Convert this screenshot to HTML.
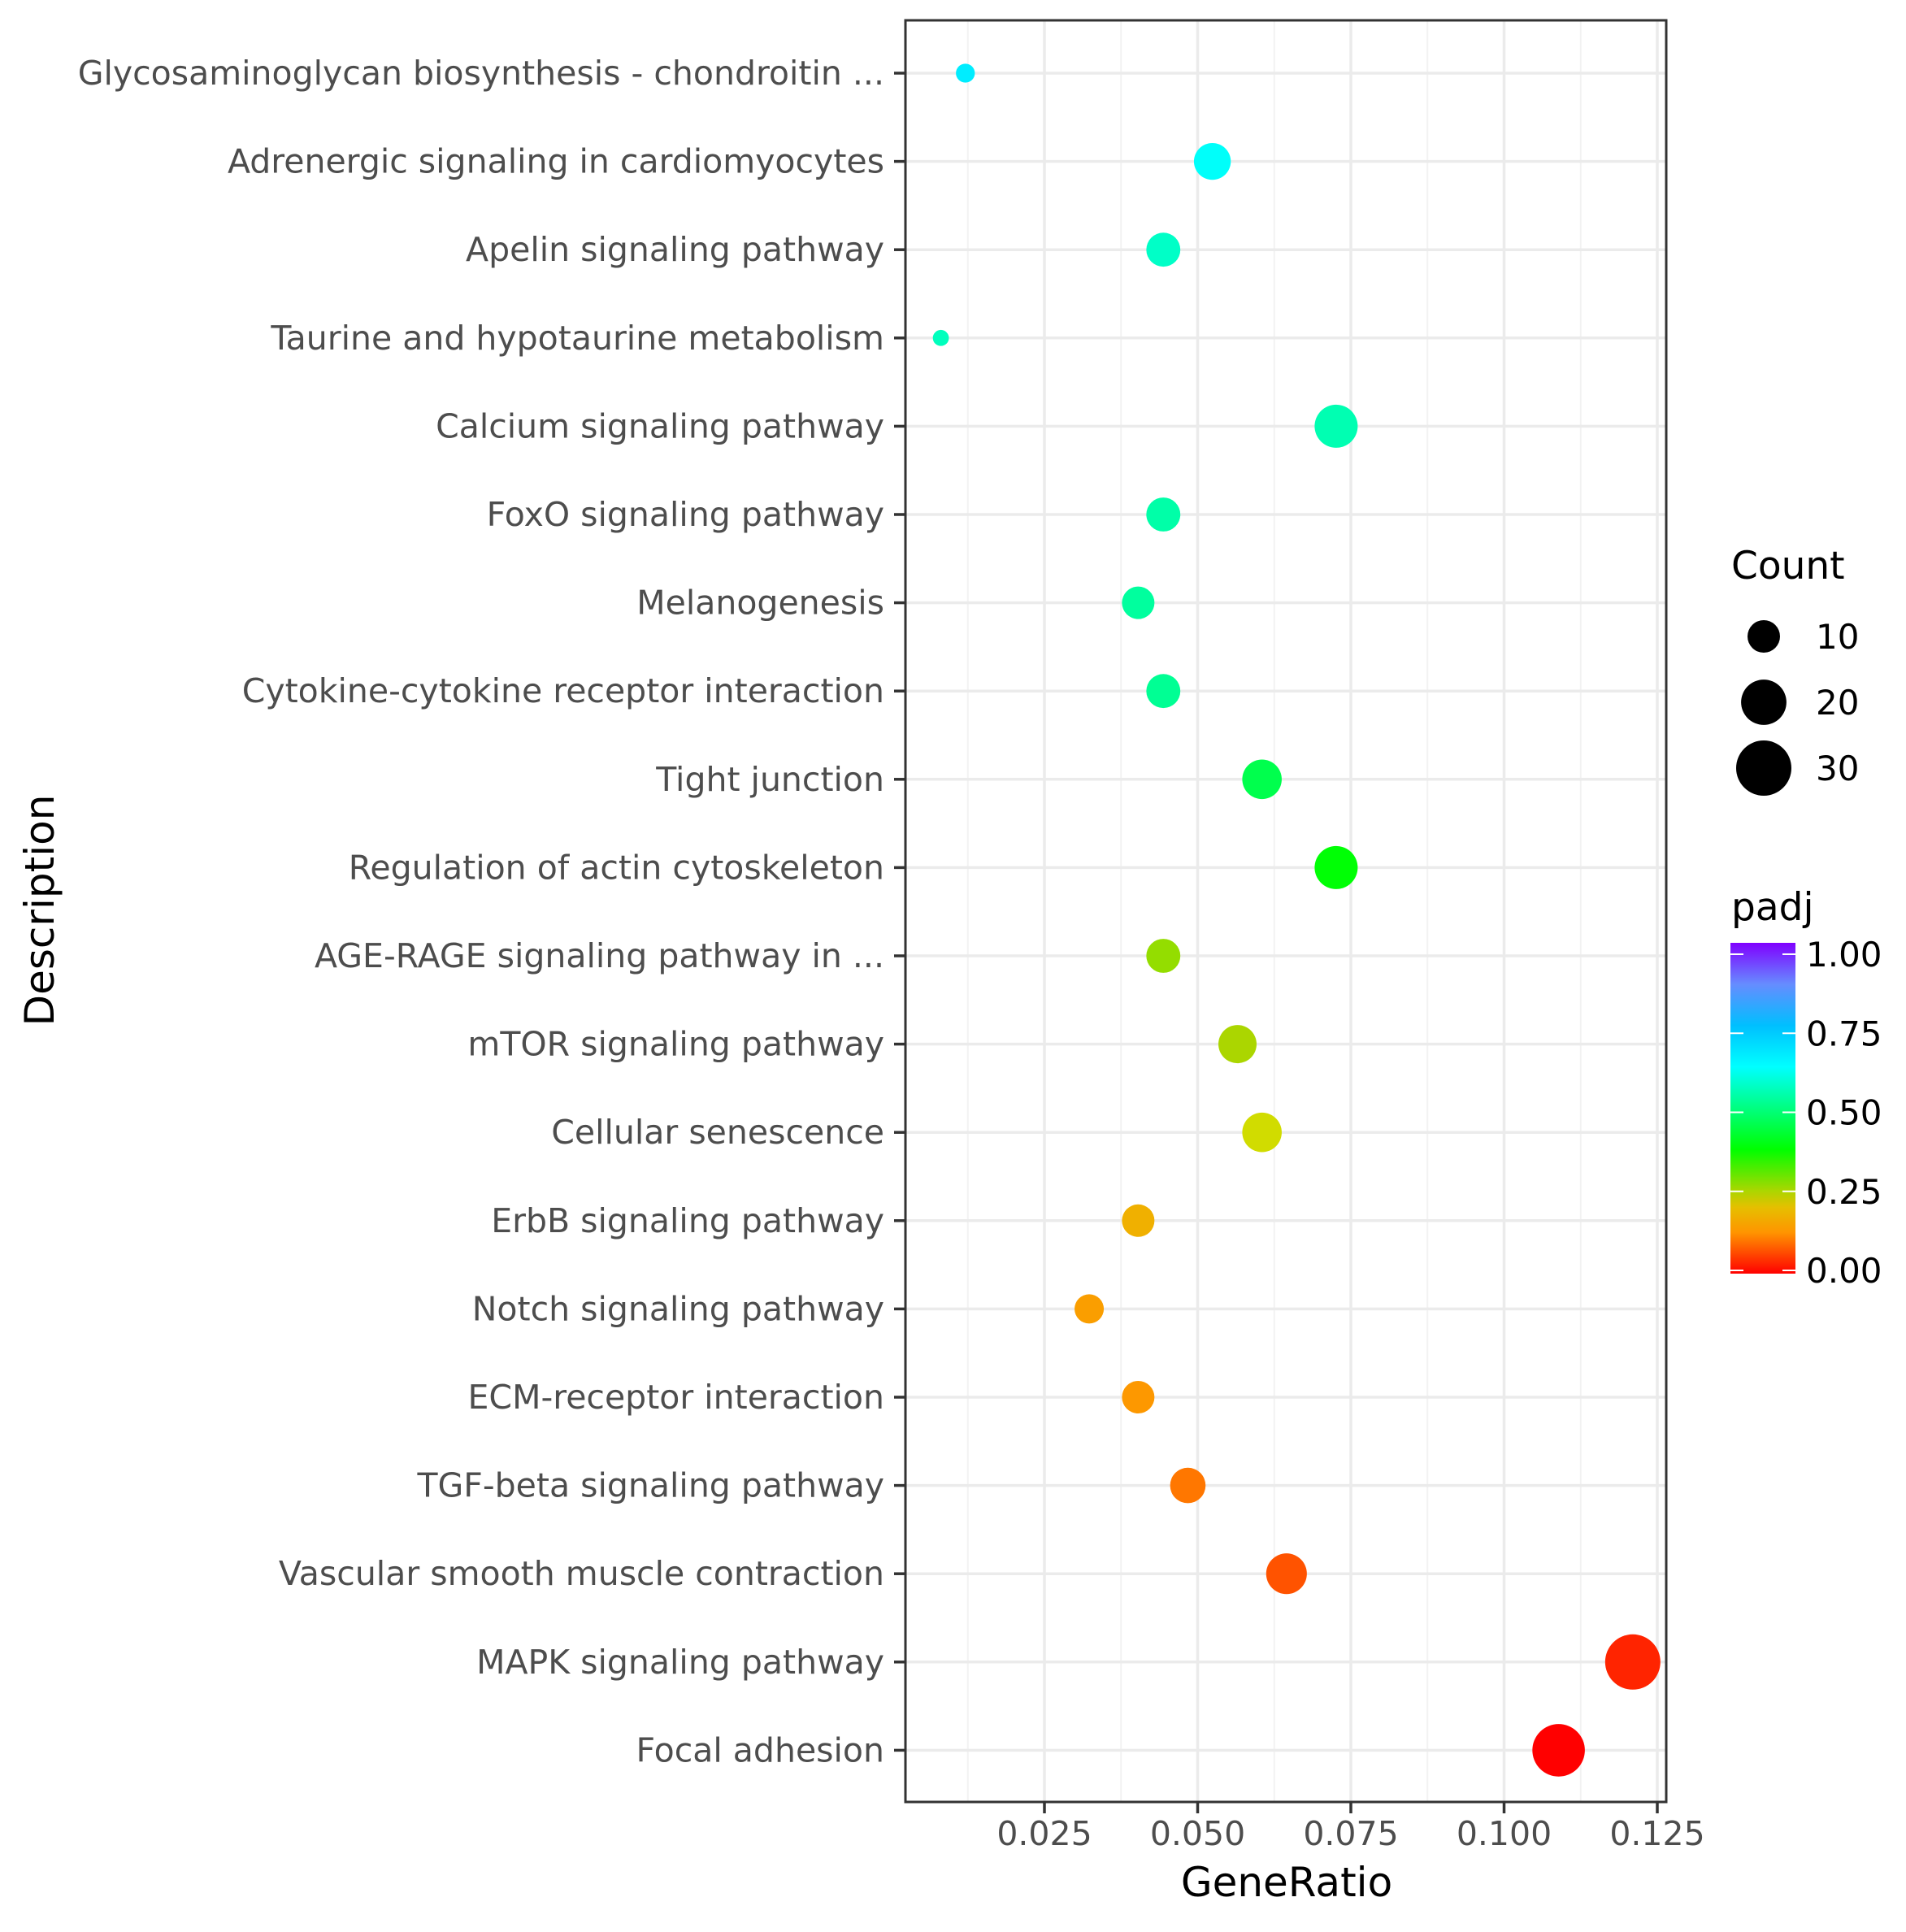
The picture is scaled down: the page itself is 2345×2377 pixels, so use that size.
<!DOCTYPE html>
<html><head><meta charset="utf-8"><style>
html,body{margin:0;padding:0;background:#fff;}
svg{display:block;}
text{font-family:"DejaVu Sans","Liberation Sans",sans-serif;}
</style></head><body>
<svg id="chart" width="2345" height="2377" viewBox="0 0 2345 2377" xmlns="http://www.w3.org/2000/svg">
<defs>
<linearGradient id="padjGrad" x1="0" y1="1" x2="0" y2="0">
<stop offset="0" stop-color="hsl(0,100%,50%)"/>
<stop offset="0.125" stop-color="hsl(35,100%,50%)"/>
<stop offset="0.2" stop-color="hsl(50,100%,45%)"/>
<stop offset="0.25" stop-color="hsl(72,100%,42%)"/>
<stop offset="0.375" stop-color="hsl(120,100%,50%)"/>
<stop offset="0.5" stop-color="hsl(150,100%,50%)"/>
<stop offset="0.625" stop-color="hsl(180,100%,50%)"/>
<stop offset="0.75" stop-color="hsl(195,100%,50%)"/>
<stop offset="0.875" stop-color="hsl(225,100%,70%)"/>
<stop offset="1" stop-color="hsl(270,100%,50%)"/>
</linearGradient>
</defs>
<g id="grid"></g>
<g id="marks"></g>
<rect x="1114" y="25" width="936" height="2192" fill="none" stroke="#333" stroke-width="3"/>
<g id="axes"></g>
<text x="1583" y="2333" font-size="50" text-anchor="middle" fill="#000">GeneRatio</text>
<text transform="translate(66,1120) rotate(-90)" font-size="50" text-anchor="middle" fill="#000">Description</text>
<g>
<text x="2130" y="712" font-size="47" fill="#000">Count</text>
<g id="sizeLegend"></g>
</g>
<g>
<text x="2130" y="1132" font-size="47" fill="#000">padj</text>
<rect x="2129" y="1160" width="80" height="407" fill="url(#padjGrad)"/>
<g id="colorLegend"></g>
</g>
</svg>
<script>
const categories = ["Glycosaminoglycan biosynthesis - chondroitin ...","Adrenergic signaling in cardiomyocytes","Apelin signaling pathway","Taurine and hypotaurine metabolism","Calcium signaling pathway","FoxO signaling pathway","Melanogenesis","Cytokine-cytokine receptor interaction","Tight junction","Regulation of actin cytoskeleton","AGE-RAGE signaling pathway in ...","mTOR signaling pathway","Cellular senescence","ErbB signaling pathway","Notch signaling pathway","ECM-receptor interaction","TGF-beta signaling pathway","Vascular smooth muscle contraction","MAPK signaling pathway","Focal adhesion"];
const geneRatio = [0.0121,0.0524,0.0444,0.0081,0.0726,0.0444,0.0403,0.0444,0.0605,0.0726,0.0444,0.0565,0.0605,0.0403,0.0323,0.0403,0.0484,0.0645,0.1210,0.1089];
const counts = [3,13,11,2,18,11,10,11,15,18,11,14,15,10,8,10,12,16,30,27];
const padj = [0.66,0.62,0.57,0.56,0.55,0.54,0.53,0.52,0.45,0.38,0.27,0.25,0.23,0.17,0.14,0.13,0.10,0.07,0.03,0.0];
const xTicks = [0.025,0.050,0.075,0.100,0.125];
const xTickLabels = ["0.025","0.050","0.075","0.100","0.125"];
const sizeBreaks = [10,20,30];
const colorBreaks = [0,0.25,0.5,0.75,1];
const colorLabels = ["0.00","0.25","0.50","0.75","1.00"];

const NS="http://www.w3.org/2000/svg";
function mk(tag,attrs,parent){const e=document.createElementNS(NS,tag);for(const k in attrs)e.setAttribute(k,attrs[k]);parent.appendChild(e);return e;}
const xScale=v=>1096.5+(v)*7540;
const yScale=i=>90+i*108.6;
const rScale=c=>Math.sqrt(22+37.8*c);
const colorScale=p=>{const st=[[0,0,50],[0.125,35,50],[0.2,50,45],[0.25,72,42],[0.375,120,50],[0.5,150,50],[0.625,180,50],[0.75,195,50],[0.875,225,70],[1,270,50]];
 for(let i=1;i<st.length;i++){if(p<=st[i][0]){const a=st[i-1],b=st[i],t=(p-a[0])/(b[0]-a[0]);return `hsl(${a[1]+t*(b[1]-a[1])},100%,${a[2]+t*(b[2]-a[2])}%)`;}}return "hsl(270,100%,50%)";};

const grid=document.getElementById('grid'),marks=document.getElementById('marks'),axes=document.getElementById('axes');
const L=1114,R=2050,T=25,B=2217;
for(let i=0;i<xTicks.length;i++){const m=xTicks[i]-0.0125;const x=xScale(m);if(x>L){const g=mk('line',{x1:x,x2:x,y1:T,y2:B,stroke:'#f2f2f2','stroke-width':2},grid);}}
{const x=xScale(xTicks[xTicks.length-1]+0.0125);if(x<R){const g=mk('line',{x1:x,x2:x,y1:T,y2:B,stroke:'#f2f2f2','stroke-width':2},grid);}}
xTicks.forEach((v,i)=>{const x=xScale(v);
 const g=mk('line',{x1:x,x2:x,y1:T,y2:B,stroke:'#ebebeb','stroke-width':3.5},grid);
 
 
 const t=mk('line',{x1:x,x2:x,y1:B,y2:B+14,stroke:'#333','stroke-width':3.5},axes);
 
 
 const tx=mk('text',{x:x,y:2270,'font-size':41,'text-anchor':'middle',fill:'#4d4d4d'},axes);
 tx.textContent=xTickLabels[i];
 
 
});
categories.forEach((c,i)=>{const y=yScale(i);
 const g=mk('line',{x1:L,x2:R,y1:y,y2:y,stroke:'#ebebeb','stroke-width':3.5},grid);
 
 
 const t=mk('line',{x1:1100,x2:L,y1:y,y2:y,stroke:'#333','stroke-width':3.5},axes);
 
 
 const tx=mk('text',{x:1088,y:y+14,'font-size':41,'text-anchor':'end',fill:'#4d4d4d'},axes);
 tx.textContent=c;
 
 
 const d=mk('circle',{cx:xScale(geneRatio[i]),cy:y,r:rScale(counts[i]),fill:colorScale(padj[i])},marks);
 
 
});
const sl=document.getElementById('sizeLegend');
sizeBreaks.forEach((c,i)=>{const y=783+i*81;
 const d=mk('circle',{cx:2170,cy:y,r:rScale(c),fill:'#000'},sl);
 
 
 const t=mk('text',{x:2234,y:y+15,'font-size':42,fill:'#000'},sl);
 t.textContent=String(c);
 
 
});
const cl=document.getElementById('colorLegend');
colorBreaks.forEach((p,i)=>{const y=1563-p*389;
 const a=mk('line',{x1:2129,x2:2145,y1:y,y2:y,stroke:'#fff','stroke-width':2},cl);
 
 
 const b=mk('line',{x1:2193,x2:2209,y1:y,y2:y,stroke:'#fff','stroke-width':2},cl);
 
 
 const t=mk('text',{x:2222,y:y+15,'font-size':42,fill:'#000'},cl);
 t.textContent=colorLabels[i];
 
 
});
</script>
</body></html>
